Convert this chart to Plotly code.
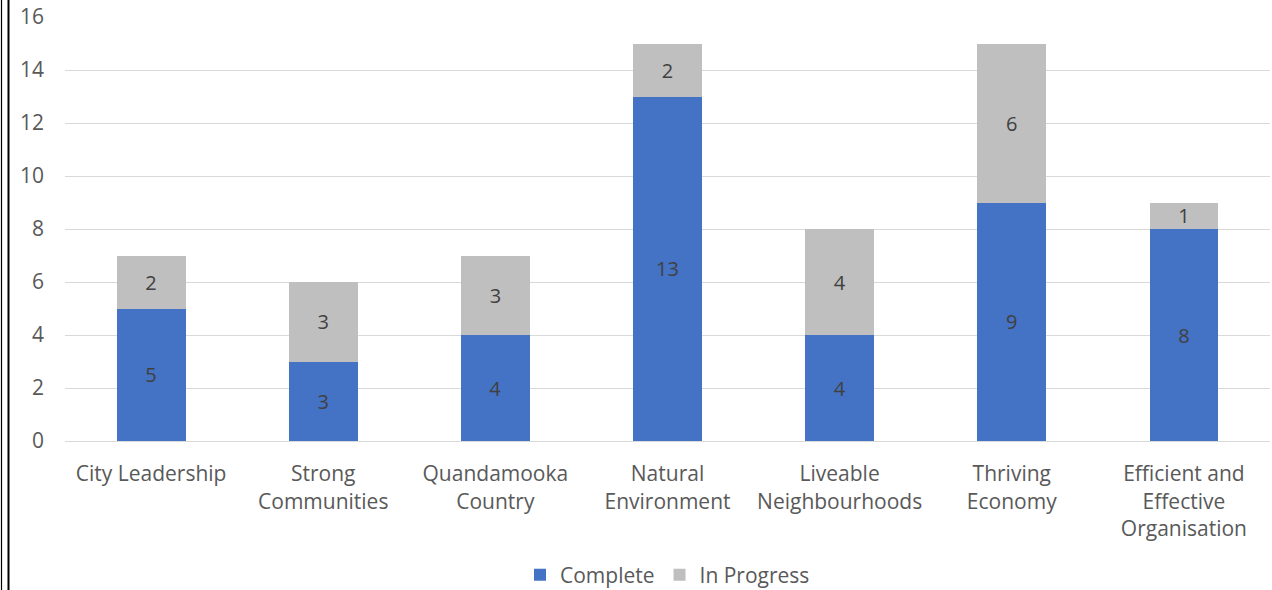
import plotly.graph_objects as go

categories = [
    "City Leadership",
    "Strong<br>Communities",
    "Quandamooka<br>Country",
    "Natural<br>Environment",
    "Liveable<br>Neighbourhoods",
    "Thriving<br>Economy",
    "Efficient and<br>Effective<br>Organisation",
]
complete = [5, 3, 4, 13, 4, 9, 8]
in_progress = [2, 3, 3, 2, 4, 6, 1]
y_ticks = [0, 2, 4, 6, 8, 10, 12, 14, 16]

W, H = 1272, 590
ML, MR, MT, MB = 65, 2, 17, 149
font_family = "Open Sans, Liberation Sans, sans-serif"
text_col = "#595959"
FS = 21

fig = go.Figure()
fig.add_trace(go.Bar(
    x=categories, y=complete, name="Complete",
    marker=dict(color="#4472C4", line=dict(width=0)),
    text=complete, textposition="inside", insidetextanchor="middle",
    textangle=0, constraintext="none",
    textfont=dict(color="#404040", size=20, family=font_family),
))
fig.add_trace(go.Bar(
    x=categories, y=in_progress, name="In Progress",
    marker=dict(color="#BFBFBF", line=dict(width=0)),
    text=in_progress, textposition="inside", insidetextanchor="middle",
    textangle=0, constraintext="none",
    textfont=dict(color="#404040", size=20, family=font_family),
))

plot_w = W - ML - MR
plot_h = H - MT - MB

def px_to_paper_x(px):
    return (px - ML) / plot_w

def px_to_paper_y(py):
    return (H - MB - py) / plot_h

# double frame line at the left edge of the page
for xpx, wd in [(1.5, 1.2), (8.5, 2)]:
    fig.add_shape(type="line", xref="paper", yref="paper",
                  x0=px_to_paper_x(xpx), x1=px_to_paper_x(xpx),
                  y0=px_to_paper_y(H + 10), y1=px_to_paper_y(-10),
                  line=dict(color="#000000", width=wd))

fig.update_layout(
    width=W, height=H,
    barmode="stack", bargap=0.6,
    margin=dict(l=ML, r=MR, t=MT, b=MB, autoexpand=False),
    paper_bgcolor="white", plot_bgcolor="white",
    font=dict(family=font_family, color=text_col, size=FS),
    uniformtext=dict(mode=False),
    xaxis=dict(
        showgrid=False, showline=True, linecolor="#D9D9D9", linewidth=1,
        ticks="", tickfont=dict(size=FS, color=text_col), tickangle=0,
        ticklabelstandoff=14, automargin=False,
    ),
    yaxis=dict(
        range=[0, 16], tickvals=y_ticks, showgrid=True, gridcolor="#D9D9D9",
        gridwidth=1, zeroline=False, showline=False, ticks="",
        tickfont=dict(size=FS, color=text_col), ticklabelstandoff=20,
        automargin=False,
    ),
    legend=dict(
        orientation="h", x=0.5, xanchor="center",
        yref="container", y=(H - 575) / H, yanchor="middle",
        font=dict(size=FS, color=text_col),
        traceorder="normal", itemwidth=30,
    ),
)

fig.write_html("out.html")
